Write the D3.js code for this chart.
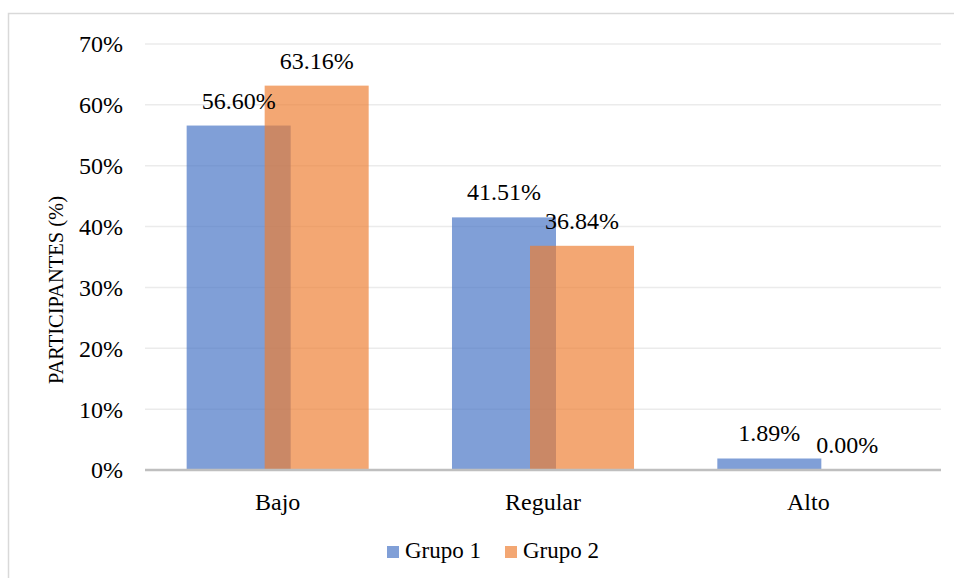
<!DOCTYPE html>
<html>
<head>
<meta charset="utf-8">
<script src="https://cdn.jsdelivr.net/npm/d3@7"></script>
<style>
  html, body { margin: 0; padding: 0; background: #fff; }
  svg { display: block; }
  text { font-family: "Liberation Serif", "Times New Roman", serif; fill: #000; }
</style>
</head>
<body>
<svg id="chart" width="954" height="578"></svg>
<script>
const categories = ["Bajo", "Regular", "Alto"];
const seriesNames = ["Grupo 1", "Grupo 2"];
const grupo1 = [56.60, 41.51, 1.89];
const grupo2 = [63.16, 36.84, 0.00];
const yTicks = [0, 10, 20, 30, 40, 50, 60, 70];
const colors = ["#4472C4", "#ED7D31"];

const seriesValues = [grupo1, grupo2];
const serif = '"Liberation Serif", "Times New Roman", serif';
const svg = d3.select("#chart");

// outer chart frame
svg.append("rect")
  .attr("x", 8.5).attr("y", 13.5)
  .attr("width", 1000).attr("height", 1000)
  .attr("fill", "none").attr("stroke", "#d9d9d9").attr("stroke-width", 1.5);

const plot = { left: 145, right: 941, top: 44, bottom: 470 };

const x0 = d3.scaleBand().domain(categories).range([plot.left, plot.right]).padding(0);
const y = d3.scaleLinear().domain([0, 70]).range([plot.bottom, plot.top]);

const barW = x0.bandwidth() * 0.392;
const step = barW * 0.75;               // bars overlap by a quarter of their width
const groupW = barW + step;
const xOff = d3.scaleOrdinal().domain(seriesNames)
  .range(seriesNames.map((s, i) => (x0.bandwidth() - groupW) / 2 + i * step));

// gridlines
svg.append("g").selectAll("line")
  .data(yTicks.filter(t => t > 0))
  .join("line")
  .attr("x1", plot.left).attr("x2", plot.right)
  .attr("y1", d => y(d)).attr("y2", d => y(d))
  .attr("stroke", "#ebebeb").attr("stroke-width", 1.5);

// y tick labels
const yAxis = d3.axisLeft(y).tickValues(yTicks).tickFormat(d => d + "%").tickSize(0).tickPadding(22);
const yg = svg.append("g").attr("transform", `translate(${plot.left},0)`).call(yAxis);
yg.select(".domain").remove();
yg.selectAll("text").attr("font-size", 24).style("font-family", serif).attr("dy", "0.33em");

// bars
seriesNames.forEach((name, si) => {
  svg.append("g").selectAll("rect")
    .data(categories.map((c, i) => ({ c, v: seriesValues[si][i] })))
    .join("rect")
    .attr("x", d => x0(d.c) + xOff(name))
    .attr("y", d => y(d.v))
    .attr("width", barW)
    .attr("height", d => y(0) - y(d.v))
    .attr("fill", colors[si])
    .attr("fill-opacity", 0.68);
});

// baseline
svg.append("line")
  .attr("x1", plot.left).attr("x2", plot.right)
  .attr("y1", y(0)).attr("y2", y(0))
  .attr("stroke", "#bfbfbf").attr("stroke-width", 2.5);

// value labels
seriesNames.forEach((name, si) => {
  svg.append("g").selectAll("text")
    .data(categories.map((c, i) => ({ c, v: seriesValues[si][i] })))
    .join("text")
    .attr("x", d => x0(d.c) + xOff(name) + barW / 2)
    .attr("y", d => y(d.v) - 17)
    .attr("text-anchor", "middle")
    .attr("font-size", 24)
    .style("font-family", serif)
    .text(d => d.v.toFixed(2) + "%");
});

// category axis
const xAxis = d3.axisBottom(x0).tickSize(0).tickPadding(0);
const xg = svg.append("g").attr("transform", `translate(0,${plot.bottom})`).call(xAxis);
xg.select(".domain").remove();
xg.selectAll("text").attr("font-size", 24).style("font-family", serif).attr("dy", null).attr("y", 40);

// y axis title
svg.append("text")
  .attr("transform", `translate(63,${(plot.top + plot.bottom) / 2 + 33}) rotate(-90)`)
  .attr("text-anchor", "middle")
  .attr("font-size", 20.5)
  .style("font-family", serif)
  .text("PARTICIPANTES (%)");

// legend
const legendItems = [{ name: seriesNames[0], x: 387 }, { name: seriesNames[1], x: 505 }];
const lg = svg.append("g");
legendItems.forEach((it, i) => {
  lg.append("rect")
    .attr("x", it.x).attr("y", 546).attr("width", 12).attr("height", 12)
    .attr("fill", colors[i]).attr("fill-opacity", 0.68);
  lg.append("text")
    .attr("x", it.x + 18).attr("y", 558)
    .attr("font-size", 23)
    .style("font-family", serif)
    .text(it.name);
});
</script>
</body>
</html>
